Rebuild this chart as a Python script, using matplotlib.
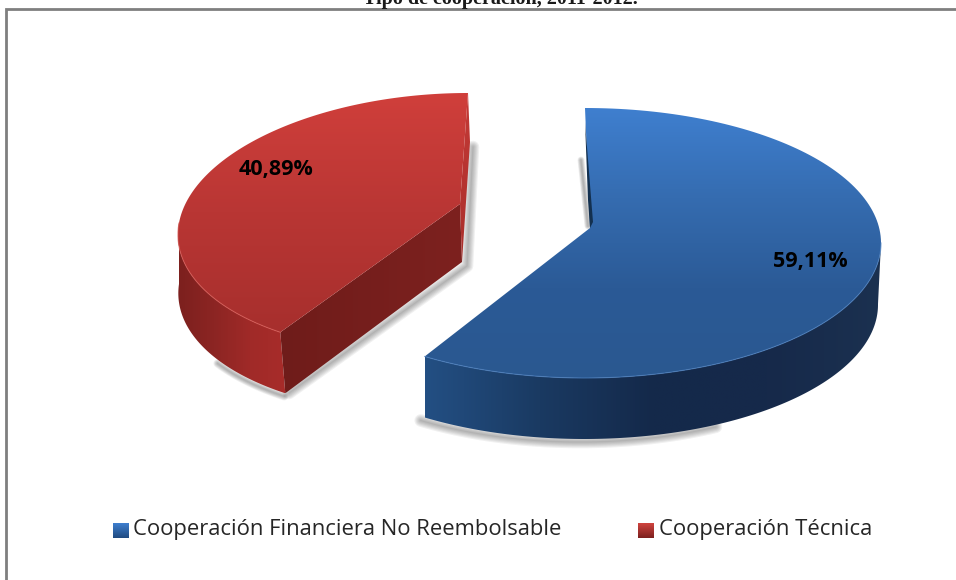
#!/usr/bin/env python3
"""Pastel 3D: tipo de cooperación, dibujado a mano en coordenadas de píxel."""

import numpy as np
import matplotlib
matplotlib.use('Agg')
import matplotlib.pyplot as plt
from matplotlib.patches import Polygon, Rectangle
from matplotlib.colors import LinearSegmentedColormap

# ── Datos ────────────────────────────────────────────────────────────────────
TITLE = 'Tipo de cooperación, 2011-2012.'
CATEGORIES = ['Cooperación Financiera No Reembolsable', 'Cooperación Técnica']
SHARES = [59.11, 40.89]
LABELS = ['59,11%', '40,89%']
# ─────────────────────────────────────────────────────────────────────────────

W, H = 956, 580
DEPTH = 61


def rim(cx, cy, a, b, skew, t1, t2, n=160):
    """Puntos del borde elíptico; ángulos en grados, 90 = arriba."""
    t = np.radians(np.linspace(t1, t2, n))
    x = cx + a * np.cos(t) + skew * (np.sin(t) - 1)
    y = cy - b * np.sin(t)
    return np.column_stack([x, y])


def gradient(ax, pts, colors, vertical=True, xs=None):
    """Rellena el polígono pts con un degradado recortado."""
    cmap = LinearSegmentedColormap.from_list('g', colors)
    x0, x1 = pts[:, 0].min(), pts[:, 0].max()
    y0, y1 = pts[:, 1].min(), pts[:, 1].max()
    ramp = np.linspace(0, 1, 256)
    arr = ramp.reshape(-1, 1) if vertical else ramp.reshape(1, -1)
    im = ax.imshow(arr, cmap=cmap, extent=(x0, x1, y1, y0), origin='upper',
                   aspect='auto', zorder=3, interpolation='bilinear')
    patch = Polygon(pts, closed=True, transform=ax.transData, fc='none', ec='none')
    ax.add_patch(patch)
    im.set_clip_path(patch)
    return im


def soft_shadow(ax, pts, width=9, color='#303030'):
    """Sombra difusa a base de trazos gruesos semitransparentes."""
    for w in np.linspace(width, 1, 6):
        ax.plot(pts[:, 0], pts[:, 1], color=color, lw=w, alpha=0.07,
                solid_capstyle='round', zorder=2)


fig = plt.figure(figsize=(W / 100, H / 100), dpi=100)
ax = fig.add_axes([0, 0, 1, 1])

# Marco y título cortado por arriba
ax.add_patch(Rectangle((6, 9), 1000, 700, fc='white', ec='#7f7f7f', lw=2, zorder=1))
ax.text(500, 4, TITLE, family=['Liberation Serif', 'DejaVu Serif'], fontweight='bold',
        fontsize=14.5, ha='center', va='baseline', color='#1a1a1a', zorder=5)

# Ángulos a partir de los porcentajes (sentido horario desde arriba)
cut = 90 - SHARES[0] * 3.6

# ── Sector azul ──────────────────────────────────────────────────────────────
blue = dict(cx=585, cy=243, a=296, b=135, skew=0)
apex_b = np.array([590, 228])
arc_b = rim(**blue, t1=90, t2=cut)
wall_b = rim(**blue, t1=0, t2=cut)
wall_b_low = wall_b + [0, DEPTH]
wall_b_low[:, 0] -= 3 * np.linspace(1, 0, len(wall_b))

soft_shadow(ax, wall_b_low[wall_b_low[:, 0] < 720] + [-4, 3])
soft_shadow(ax, np.array([[581, 160], [588, 226]]), width=5)

gradient(ax, np.vstack([wall_b, wall_b_low[::-1]]),
         ['#234f83', '#1a3a62', '#14294a', '#16294a', '#1b3150'], vertical=False)
gradient(ax, np.vstack([arc_b, apex_b]), ['#3f7fcf', '#356cb0', '#2b5a96', '#2a5890'])
ax.add_patch(Polygon([[585, 122], [593, 222], [590, 228], [588, 200]], fc='#13304f',
                     ec='none', zorder=4))
ax.plot(wall_b[:, 0], wall_b[:, 1], color='#4a7fc0', lw=0.8, alpha=0.7, zorder=4)

# ── Sector rojo ──────────────────────────────────────────────────────────────
red = dict(cx=468, cy=223, a=265, b=130, skew=24)
apex_r = np.array([460, 204])
arc_r = rim(**red, t1=cut, t2=-270)
wall_r = rim(**red, t1=cut, t2=-180)
wall_r_low = wall_r + [0, DEPTH]
wall_r_low[:, 0] += 5 * np.linspace(1, 0, len(wall_r))
corner_top, corner_low = wall_r[0], wall_r_low[0]

soft_shadow(ax, np.array([[470, 145], [464, 264], [286, 391]]) + [3, 2])
soft_shadow(ax, wall_r_low[:60] + [-1, 3], width=6)

gradient(ax, np.vstack([wall_r, wall_r_low[::-1]])[:],
         ['#7c201e', '#8c2523', '#a02a28', '#a82c2a'], vertical=False).set_zorder(3)
gradient(ax, np.array([apex_r, [462, 262], corner_low, corner_top]),
         ['#6f1c1a', '#7d211f'], vertical=False)
gradient(ax, np.array([[468, 93], [470, 142], [462, 262], apex_r]),
         ['#c43a36', '#a92e2b'])
gradient(ax, np.vstack([arc_r, apex_r]), ['#d03f3b', '#b93634', '#a72f2d'])
ax.plot(wall_r[:, 0], wall_r[:, 1], color='#d85a55', lw=0.8, alpha=0.7, zorder=4)

# ── Etiquetas ────────────────────────────────────────────────────────────────
for (x, y), txt in zip([(810, 262), (276, 169)], LABELS):
    ax.text(x, y, txt, family='Open Sans', fontweight='bold', fontsize=15.5,
            ha='center', va='center', color='black', zorder=6)

# ── Leyenda ──────────────────────────────────────────────────────────────────
legend_pos = [(113, 134), (638, 660)]
key_colors = [['#3f7fcf', '#1f4a80'], ['#d0443f', '#7c201e']]
for (kx, tx), name, cols in zip(legend_pos, CATEGORIES, key_colors):
    gradient(ax, np.array([[kx, 523], [kx + 16, 523], [kx + 16, 538], [kx, 538]], float), cols)
    ax.text(tx - 1, 530, name, family='Open Sans', fontsize=15.8, ha='left', va='center',
            color='#262626', zorder=6)

ax.set_xlim(0, W)
ax.set_ylim(H, 0)
ax.axis('off')

fig.savefig('out.png', dpi=100)
